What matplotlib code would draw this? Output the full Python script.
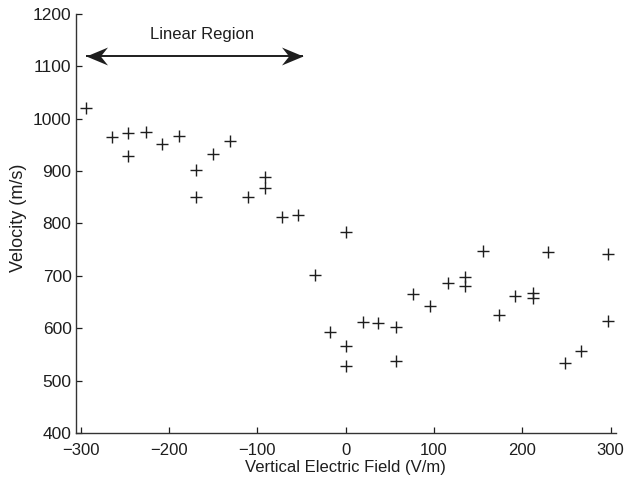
import matplotlib
matplotlib.use("Agg")
import matplotlib.pyplot as plt
from matplotlib.path import Path

plt.rcParams['font.family'] = ['Liberation Sans', 'DejaVu Sans']

field = [-294, -265, -246, -246, -226, -208, -189, -170, -170, -150,
         -131, -111, -91, -91, -72, -54, 0, -35, -18, 0,
         0, 20, 37, 57, 57, 76, 95, 116, 135, 135,
         155, 174, 192, 212, 212, 229, 248, 267, 297, 297]
velocity = [1020, 965, 972, 929, 974, 952, 967, 902, 851, 933,
            958, 851, 889, 867, 812, 816, 784, 702, 593, 567,
            528, 612, 610, 602, 538, 665, 642, 687, 698, 681,
            747, 625, 662, 667, 657, 746, 533, 557, 741, 613]

xticks = [-300, -200, -100, 0, 100, 200, 300]
xticklabels = ['\u2212300', '\u2212200', '\u2212100', '0', '100', '200', '300']
yticks = [400, 500, 600, 700, 800, 900, 1000, 1100, 1200]

arrow_x = [-294, -48]
arrow_y = 1120
region_label = 'Linear Region'

fig = plt.figure(figsize=(6.36, 4.84), dpi=100)
ax = fig.add_axes([0.119, 0.1054, 0.849, 0.8657])

ink = '#1e1e1e'
ax.plot(field, velocity, linestyle='none', marker='+', markersize=9,
        markeredgewidth=1.0, color=ink)

# double-headed arrow with stealth-style heads
ax.plot(arrow_x, [arrow_y, arrow_y], color=ink, lw=1.4, solid_capstyle='butt')
right_head = Path([(0, 0), (-18, 7.5), (-12, 0), (-18, -7.5), (0, 0)],
                  [Path.MOVETO, Path.LINETO, Path.LINETO, Path.LINETO, Path.CLOSEPOLY])
left_head = Path([(0, 0), (18, 7.5), (12, 0), (18, -7.5), (0, 0)],
                 [Path.MOVETO, Path.LINETO, Path.LINETO, Path.LINETO, Path.CLOSEPOLY])
ax.plot([arrow_x[1]], [arrow_y], marker=right_head, markersize=31, color=ink,
        markeredgewidth=0)
ax.plot([arrow_x[0]], [arrow_y], marker=left_head, markersize=31, color=ink,
        markeredgewidth=0)
ax.text(-163, 1160, region_label, ha='center', va='center', fontsize=12, color=ink)

ax.set_xlim(-305.7, 305.7)
ax.set_ylim(400, 1200)
ax.set_xticks(xticks)
ax.set_yticks(yticks)
ax.set_xticklabels(xticklabels)
ax.tick_params(direction='in', length=4, width=0.9, colors=ink)
ax.tick_params(axis='x', labelsize=12, pad=7)
ax.tick_params(axis='y', labelsize=12.5, pad=3)
for s in ['top', 'right']:
    ax.spines[s].set_visible(False)
for s in ['left', 'bottom']:
    ax.spines[s].set_linewidth(1.0)
    ax.spines[s].set_color('#333333')

ax.set_xlabel('Vertical Electric Field (V/m)', fontsize=12, color=ink, labelpad=2)
ax.set_ylabel('Velocity (m/s)', fontsize=13, color=ink)
ax.yaxis.set_label_coords(-0.091, 0.514)

fig.savefig('out.png', dpi=100)
